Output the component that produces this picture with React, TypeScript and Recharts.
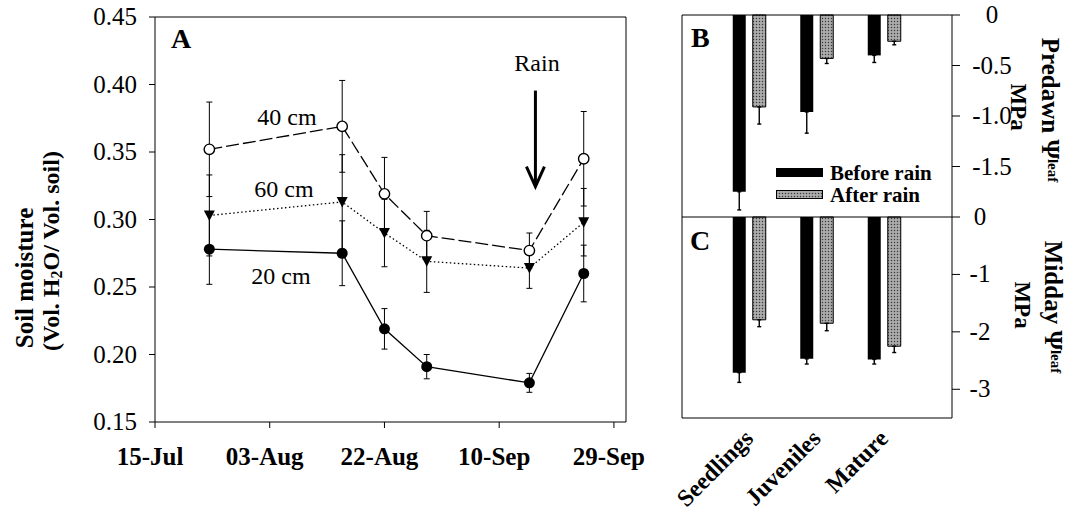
import { LineChart, Line, XAxis, YAxis, ErrorBar, ReferenceLine, BarChart, Bar, Legend } from 'recharts';

const SERIF = '"Liberation Serif", "Times New Roman", serif';

// Panel A: soil moisture by depth
const dateLabels = ['15-Jul', '03-Aug', '22-Aug', '10-Sep', '29-Sep'];
const dateTicks = [0, 19, 38, 57, 76];
const sampleDays = [9, 31, 38, 45, 62, 71];
const moisture40 = [0.352, 0.369, 0.319, 0.288, 0.277, 0.345];
const moisture40Se = [0.035, 0.034, 0.027, 0.018, 0.013, 0.035];
const moisture60 = [0.303, 0.313, 0.29, 0.269, 0.264, 0.298];
const moisture60Se = [0.03, 0.035, 0.025, 0.023, 0.015, 0.025];
const moisture20 = [0.278, 0.275, 0.219, 0.191, 0.179, 0.26];
const moisture20Se = [0.026, 0.024, 0.015, 0.009, 0.007, 0.021];
const moistureTicks = [0.15, 0.2, 0.25, 0.3, 0.35, 0.4, 0.45];
const rainDay = 63;

// Panels B and C: leaf water potential
const groups = ['Seedlings', 'Juveniles', 'Mature'];
const groupPos = [1, 2, 3];
const legendOrder = ['Before rain', 'After rain'];
const predawnBefore = [-1.75, -0.96, -0.4];
const predawnBeforeSe = [0.18, 0.21, 0.07];
const predawnAfter = [-0.91, -0.43, -0.26];
const predawnAfterSe = [0.17, 0.05, 0.035];
const middayBefore = [-2.71, -2.47, -2.48];
const middayBeforeSe = [0.17, 0.09, 0.08];
const middayAfter = [-1.79, -1.85, -2.25];
const middayAfterSe = [0.12, 0.13, 0.11];
const predawnTicks = [0, -0.5, -1, -1.5];
const predawnTickLabels = ['0', '-0.5', '-1.0', '-1.5'];
const middayTicks = [0, -1, -2, -3];
const middayTickLabels = ['0', '-1', '-2', '-3'];

const soilData = sampleDays.map((d, i) => ({
  day: d,
  d40: moisture40[i], e40: moisture40Se[i],
  d60: moisture60[i], e60: moisture60Se[i],
  d20: moisture20[i], e20: moisture20Se[i],
}));

const predawnData = groups.map((g, i) => ({
  pos: groupPos[i], name: g,
  before: predawnBefore[i], beforeErr: [predawnBeforeSe[i], 0],
  after: predawnAfter[i], afterErr: [predawnAfterSe[i], 0],
}));

const middayData = groups.map((g, i) => ({
  pos: groupPos[i], name: g,
  before: middayBefore[i], beforeErr: [middayBeforeSe[i], 0],
  after: middayAfter[i], afterErr: [middayAfterSe[i], 0],
}));

const FilledDot = (p: any) => <circle key={p.index} cx={p.cx} cy={p.cy} r={5.5} fill="#000" />;
const OpenDot = (p: any) => <circle key={p.index} cx={p.cx} cy={p.cy} r={5.2} fill="#fff" stroke="#000" strokeWidth={1.4} />;
const TriangleDot = (p: any) => (
  <path key={p.index} d={`M${p.cx - 5.5},${p.cy - 5} L${p.cx + 5.5},${p.cy - 5} L${p.cx},${p.cy + 5.5} Z`} fill="#000" />
);

const RainArrow = (p: any) => (
  <g>
    <line x1={p.x1} y1={p.y1} x2={p.x2} y2={p.y2} stroke="#000" strokeWidth={3} />
    <polyline points={`${p.x2 - 9},${p.y2 - 20} ${p.x2},${p.y2} ${p.x2 + 9},${p.y2 - 20}`} fill="none" stroke="#000" strokeWidth={3} />
  </g>
);

const DateTick = ({ x, y, payload }: any) => (
  <text x={x - 5} y={y + 35} textAnchor="middle" fontSize={25} fontWeight="bold" fontFamily={SERIF} fill="#000">
    {dateLabels[dateTicks.indexOf(payload.value)]}
  </text>
);

const MoistureTick = ({ x, y, payload }: any) => (
  <text x={x - 10} y={y + 8} textAnchor="end" fontSize={25} fontFamily={SERIF} fill="#000">
    {payload.value.toFixed(2)}
  </text>
);

const makeRightTick = (ticks: number[], labels: string[], dx: number) => ({ x, y, payload }: any) => (
  <text x={x + dx} y={y + 8} textAnchor="middle" fontSize={25} fontFamily={SERIF} fill="#000">
    {labels[ticks.indexOf(payload.value)]}
  </text>
);
const PredawnTick = makeRightTick(predawnTicks, predawnTickLabels, 30);
const MiddayTick = makeRightTick(middayTicks, middayTickLabels, 18);

const GroupTick = ({ x, y, payload }: any) => (
  <text
    x={x + 5} y={y + 14}
    transform={`rotate(-45, ${x + 5}, ${y + 14})`}
    textAnchor="end" fontSize={24} fontWeight="bold" fontFamily={SERIF} fill="#000"
  >
    {groups[groupPos.indexOf(payload.value)]}
  </text>
);

const RainLegend = ({ payload }: any) => {
  const items = [...(payload || [])].sort((a: any, b: any) => legendOrder.indexOf(a.value) - legendOrder.indexOf(b.value));
  return (
    <div>
      {items.map((item: any) => (
        <div key={item.value} style={{ display: 'flex', alignItems: 'center', height: 22 }}>
          <svg width={54} height={10} style={{ display: 'block' }}>
            <rect x={0.5} y={0.5} width={46} height={8} fill={item.color} stroke="#000" strokeWidth={1} />
          </svg>
          <span style={{ fontFamily: SERIF, fontWeight: 'bold', fontSize: 21, lineHeight: '22px', color: '#000' }}>
            {item.value}
          </span>
        </div>
      ))}
    </div>
  );
};

export default function App() {
  return (
    <div style={{ position: 'absolute', left: 0, top: 0, width: 1082, height: 512, background: '#fff' }}>
      <div style={{ position: 'absolute', left: 0, top: 0 }}>
        <LineChart width={660} height={512} data={soilData} margin={{ top: 17, right: 34, bottom: 0, left: 0 }}>
          <XAxis
            type="number" dataKey="day" domain={[0, 78]} ticks={dateTicks} interval={0}
            height={90} tickSize={6} axisLine={{ stroke: '#000' }} tickLine={{ stroke: '#000' }} tick={<DateTick />}
          />
          <YAxis
            type="number" domain={[0.15, 0.45]} ticks={moistureTicks} interval={0}
            width={155} tickSize={6} axisLine={{ stroke: '#000' }} tickLine={{ stroke: '#000' }} tick={<MoistureTick />}
          />
          <ReferenceLine y={0.45} stroke="#000" />
          <ReferenceLine x={78} stroke="#000" />
          <ReferenceLine segment={[{ x: rainDay, y: 0.3955 }, { x: rainDay, y: 0.3243 }]} shape={RainArrow} />
          <Line dataKey="d20" stroke="#000" strokeWidth={1.3} dot={FilledDot} isAnimationActive={false}>
            <ErrorBar dataKey="e20" width={3} stroke="#000" strokeWidth={1} direction="y" />
          </Line>
          <Line dataKey="d60" stroke="#000" strokeWidth={1.3} strokeDasharray="1.5 2.5" dot={TriangleDot} isAnimationActive={false}>
            <ErrorBar dataKey="e60" width={3} stroke="#000" strokeWidth={1} direction="y" />
          </Line>
          <Line dataKey="d40" stroke="#000" strokeWidth={1.3} strokeDasharray="13 4" dot={OpenDot} isAnimationActive={false}>
            <ErrorBar dataKey="e40" width={3} stroke="#000" strokeWidth={1} direction="y" />
          </Line>
        </LineChart>
      </div>

      <div style={{ position: 'absolute', left: 600, top: 0 }}>
        <BarChart width={482} height={222} data={predawnData} margin={{ top: 15, right: 0, bottom: 5, left: 82 }} barGap={7} barSize={13}>
          <defs>
            <pattern id="hatch" width="3" height="3" patternUnits="userSpaceOnUse">
              <rect width="3" height="3" fill="#9c9c9c" />
              <rect width="1" height="1" fill="#3a3a3a" />
              <rect x="1.5" y="1.5" width="1" height="1" fill="#dcdcdc" />
            </pattern>
          </defs>
          <XAxis type="number" dataKey="pos" domain={[0, 4]} ticks={groupPos} hide />
          <YAxis
            orientation="right" type="number" domain={[-2, 0]} ticks={predawnTicks} interval={0}
            width={130} tickSize={8} axisLine={{ stroke: '#000' }} tickLine={{ stroke: '#000' }} tick={<PredawnTick />}
          />
          <ReferenceLine x={0} stroke="#000" />
          <ReferenceLine y={0} stroke="#000" />
          <Bar dataKey="before" name="Before rain" fill="#000" isAnimationActive={false}>
            <ErrorBar dataKey="beforeErr" width={2} stroke="#000" strokeWidth={1.4} direction="y" />
          </Bar>
          <Bar dataKey="after" name="After rain" fill="url(#hatch)" stroke="#000" strokeWidth={1} isAnimationActive={false}>
            <ErrorBar dataKey="afterErr" width={2} stroke="#000" strokeWidth={1.4} direction="y" />
          </Bar>
          <Legend
            layout="horizontal" verticalAlign="middle" align="center" content={<RainLegend />}
            wrapperStyle={{ position: 'absolute', left: 176, top: 162, width: 'auto', height: 'auto' }}
          />
        </BarChart>
      </div>

      <div style={{ position: 'absolute', left: 600, top: 200 }}>
        <BarChart width={482} height={312} data={middayData} margin={{ top: 17, right: 0, bottom: 0, left: 82 }} barGap={7} barSize={13}>
          <XAxis
            type="number" dataKey="pos" domain={[0, 4]} ticks={groupPos} interval={0}
            height={94} tickLine={false} axisLine={{ stroke: '#000' }} tick={<GroupTick />}
          />
          <YAxis
            orientation="right" type="number" domain={[-3.5, 0]} ticks={middayTicks} interval={0}
            width={130} tickSize={8} axisLine={{ stroke: '#000' }} tickLine={{ stroke: '#000' }} tick={<MiddayTick />}
          />
          <ReferenceLine x={0} stroke="#000" />
          <ReferenceLine y={0} stroke="#000" />
          <Bar dataKey="before" name="Before rain" fill="#000" isAnimationActive={false}>
            <ErrorBar dataKey="beforeErr" width={2} stroke="#000" strokeWidth={1.4} direction="y" />
          </Bar>
          <Bar dataKey="after" name="After rain" fill="url(#hatch)" stroke="#000" strokeWidth={1} isAnimationActive={false}>
            <ErrorBar dataKey="afterErr" width={2} stroke="#000" strokeWidth={1.4} direction="y" />
          </Bar>
        </BarChart>
      </div>

      <svg width={1082} height={512} style={{ position: 'absolute', left: 0, top: 0, pointerEvents: 'none' }} fontFamily={SERIF} fill="#000">
        <text x={171} y={48} fontSize={28} fontWeight="bold">A</text>
        <text x={691} y={47} fontSize={28} fontWeight="bold">B</text>
        <text x={690} y={250} fontSize={28} fontWeight="bold">C</text>
        <text x={287} y={125} fontSize={24} textAnchor="middle">40 cm</text>
        <text x={284} y={197} fontSize={24} textAnchor="middle">60 cm</text>
        <text x={281} y={284} fontSize={24} textAnchor="middle">20 cm</text>
        <text x={537} y={71} fontSize={24} textAnchor="middle">Rain</text>
        <text transform="translate(24, 278) rotate(-90)" fontSize={25} fontWeight="bold" textAnchor="middle" dominantBaseline="central">
          Soil moisture
        </text>
        <text transform="translate(51, 251) rotate(-90)" fontSize={24} fontWeight="bold" textAnchor="middle" dominantBaseline="central">
          (Vol. H<tspan fontSize={16} dy={5}>2</tspan><tspan dy={-5}>O/ Vol. soil)</tspan>
        </text>
        <text transform="translate(1050, 110) rotate(90)" fontSize={25} fontWeight="bold" textAnchor="middle" dominantBaseline="central">
          Predawn Ψ<tspan fontSize={15} dy={-3}>leaf</tspan>
        </text>
        <text transform="translate(1018, 107) rotate(90)" fontSize={23} fontWeight="bold" textAnchor="middle" dominantBaseline="central">
          MPa
        </text>
        <text transform="translate(1053, 307) rotate(90)" fontSize={25} fontWeight="bold" textAnchor="middle" dominantBaseline="central">
          Midday Ψ<tspan fontSize={15} dy={-3}>leaf</tspan>
        </text>
        <text transform="translate(1022, 305) rotate(90)" fontSize={23} fontWeight="bold" textAnchor="middle" dominantBaseline="central">
          MPa
        </text>
      </svg>
    </div>
  );
}
